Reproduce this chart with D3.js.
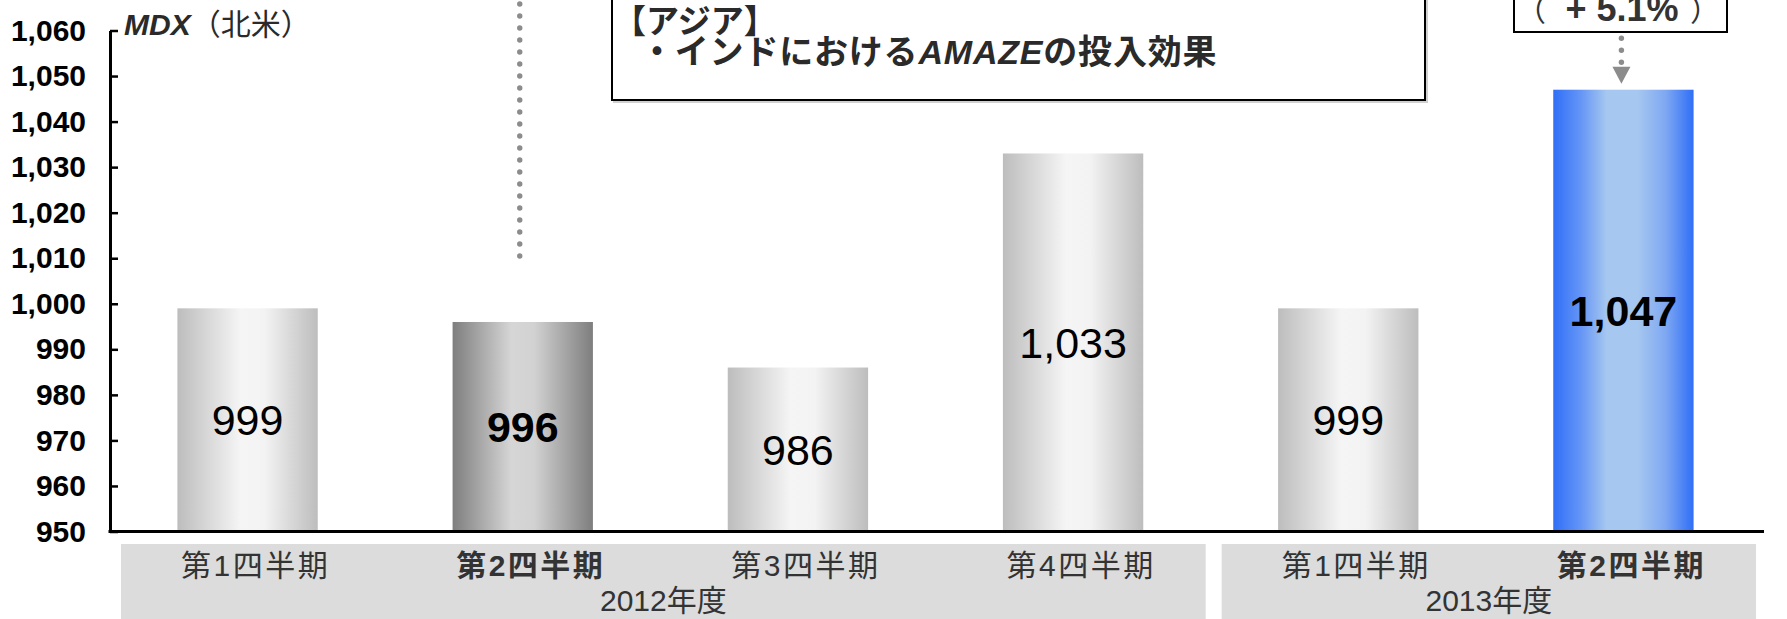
<!DOCTYPE html>
<html>
<head>
<meta charset="utf-8">
<script src="https://cdn.jsdelivr.net/npm/d3@7"></script>
<style>
body { margin: 0; background: #fff; }
svg { display: block; }
.jp { font-family: "Liberation Sans", "Noto Sans CJK JP", sans-serif; }
</style>
</head>
<body>
<svg id="chart" width="1787" height="619"></svg>
<script>
let quarters = ['第1四半期', '第2四半期', '第3四半期', '第4四半期', '第1四半期', '第2四半期']
let sales = [999, 996, 986, 1033, 999, 1047]
let years = ['2012年度', '2013年度']
let yearOfQuarter = [0, 0, 0, 0, 1, 1]
let barStyle = ['light', 'dark', 'light', 'light', 'light', 'blue']
let boldBars = [1, 5]
let yTicks = [950, 960, 970, 980, 990, 1000, 1010, 1020, 1030, 1040, 1050, 1060]
let seriesName = 'MDX'
let regionName = '（北米）'
let noteTitle = '【アジア】'
let noteLine = ['・インドにおける', 'AMAZE', 'の投入効果']
let growthLabel = '+ 5.1%'

let svg = d3.select('#chart')
let numFont = '"Liberation Sans", Arial, sans-serif'
let jpFont = '"Noto Sans CJK JP", sans-serif'

let x = d3.scaleBand()
          .domain(d3.range(sales.length))
          .range([110, 1761])
          .paddingInner(0.49)
          .paddingOuter(0.245)

let y = d3.scaleLinear()
          .domain([950, 1060])
          .range([531.5, 30.5])

// gradients for the bars
let gradients = {
    light: [[0, '#bdbdbd'], [0.45, '#f5f5f5'], [0.62, '#f3f3f3'], [1, '#bdbdbd']],
    dark: [[0, '#7e7e7e'], [0.42, '#d6d6d6'], [0.58, '#d2d2d2'], [1, '#7e7e7e']],
    blue: [[0, '#2f6ff7'], [0.2, '#6696f6'], [0.38, '#a6c7ef'], [0.6, '#a6c7ef'], [0.8, '#7fa8f2'], [1, '#2f6ff7']]
}
let defs = svg.append('defs')
Object.keys(gradients).forEach((key) => {
    let g = defs.append('linearGradient')
                .attr('id', 'grad-' + key)
                .attr('x1', '0%').attr('x2', '100%')
                .attr('y1', '0%').attr('y2', '0%')
    g.selectAll('stop')
     .data(gradients[key])
     .enter()
     .append('stop')
     .attr('offset', (s) => s[0])
     .attr('stop-color', (s) => s[1])
})

// bars
svg.selectAll('rect.bar')
   .data(sales)
   .enter()
   .append('rect')
   .attr('class', 'bar')
   .attr('x', (d, i) => x(i))
   .attr('width', x.bandwidth())
   .attr('y', (d) => y(d))
   .attr('height', (d) => y(950) - y(d))
   .attr('fill', (d, i) => 'url(#grad-' + barStyle[i] + ')')

// value labels in the middle of the visible bar
svg.selectAll('text.value')
   .data(sales)
   .enter()
   .append('text')
   .attr('class', 'value')
   .attr('x', (d, i) => x(i) + x.bandwidth() / 2)
   .attr('y', (d) => (y(d) + y(950)) / 2)
   .attr('dy', '0.36em')
   .attr('text-anchor', 'middle')
   .attr('font-family', numFont)
   .attr('font-size', 43)
   .attr('font-weight', (d, i) => boldBars.includes(i) ? 'bold' : 'normal')
   .attr('fill', '#000')
   .text((d) => d3.format(',')(d))

// y axis
let yAxis = d3.axisLeft(y)
              .tickValues(yTicks)
              .tickSizeInner(-8)
              .tickSizeOuter(0)
              .tickPadding(24)
              .tickFormat(d3.format(','))
let yg = svg.append('g')
            .attr('transform', 'translate(110,0)')
            .call(yAxis)
yg.select('.domain').attr('stroke', '#000').attr('stroke-width', 3)
yg.selectAll('.tick line').attr('stroke', '#000').attr('stroke-width', 2.5)
yg.selectAll('.tick text')
  .attr('font-family', numFont)
  .attr('font-size', 30)
  .attr('font-weight', 'bold')
  .attr('fill', '#000')

// baseline
svg.append('line')
   .attr('x1', 108.5).attr('x2', 1764)
   .attr('y1', y(950)).attr('y2', y(950))
   .attr('stroke', '#000')
   .attr('stroke-width', 3)

// category boxes
let groups = years.map((yr, gi) => {
    let idx = d3.range(quarters.length).filter((i) => yearOfQuarter[i] === gi)
    let start = x(idx[0]) - x.step() * x.paddingOuter()
    let end = x(idx[idx.length - 1]) + x.bandwidth() + x.step() * x.paddingOuter()
    return { label: yr, x0: start + 11, x1: end - 5 }
})
svg.selectAll('rect.group')
   .data(groups)
   .enter()
   .append('rect')
   .attr('class', 'group')
   .attr('x', (g) => g.x0)
   .attr('width', (g) => g.x1 - g.x0)
   .attr('y', 544)
   .attr('height', 75)
   .attr('fill', '#dcdcdc')

svg.selectAll('text.quarter')
   .data(quarters)
   .enter()
   .append('text')
   .attr('class', 'quarter jp')
   .attr('x', (d, i) => x(i) + x.bandwidth() / 2 + 8)
   .attr('y', 576)
   .attr('text-anchor', 'middle')
   .attr('font-size', 30)
   .attr('letter-spacing', 2.5)
   .attr('font-weight', (d, i) => boldBars.includes(i) ? 'bold' : 'normal')
   .attr('fill', '#333')
   .text((d) => d)

svg.selectAll('text.year')
   .data(groups)
   .enter()
   .append('text')
   .attr('class', 'year jp')
   .attr('x', (g) => (g.x0 + g.x1) / 2)
   .attr('y', 611)
   .attr('text-anchor', 'middle')
   .attr('font-size', 30)
   .attr('fill', '#333')
   .text((g) => g.label)

// series title
let title = svg.append('text')
               .attr('x', 124)
               .attr('y', 35)
               .attr('fill', '#2a2a2a')
title.append('tspan')
     .attr('font-family', numFont)
     .attr('font-size', 30)
     .attr('font-weight', 'bold')
     .attr('font-style', 'italic')
     .text(seriesName)
title.append('tspan')
     .attr('font-family', jpFont)
     .attr('font-size', 30)
     .text(regionName)

// dotted guide above bar 2
svg.append('line')
   .attr('x1', x(1) + x.bandwidth() / 2 - 3).attr('x2', x(1) + x.bandwidth() / 2 - 3)
   .attr('y1', 4).attr('y2', y(1010))
   .attr('stroke', '#8c8c8c')
   .attr('stroke-width', 5.4)
   .attr('stroke-linecap', 'round')
   .attr('stroke-dasharray', '0 12')

// note box
svg.append('rect')
   .attr('x', 614).attr('y', -10)
   .attr('width', 813).attr('height', 112)
   .attr('fill', 'none')
   .attr('stroke', '#d0d0d0')
   .attr('stroke-width', 2)
svg.append('rect')
   .attr('x', 612).attr('y', -10)
   .attr('width', 813).attr('height', 110)
   .attr('fill', '#fff')
   .attr('stroke', '#000')
   .attr('stroke-width', 2)
svg.append('text')
   .attr('x', 613).attr('y', 33)
   .attr('font-family', jpFont)
   .attr('font-size', 33)
   .attr('font-weight', 'bold')
   .attr('fill', '#2a2a2a')
   .text(noteTitle)
let note = svg.append('text')
              .attr('x', 640).attr('y', 64)
              .attr('font-family', jpFont)
              .attr('font-size', 34)
              .attr('letter-spacing', 0.8)
              .attr('font-weight', 'bold')
              .attr('fill', '#2a2a2a')
note.append('tspan').text(noteLine[0])
note.append('tspan')
    .attr('font-family', numFont)
    .attr('font-style', 'italic')
    .text(noteLine[1])
note.append('tspan').text(noteLine[2])

// growth box + arrow
let cx = x(5) + x.bandwidth() / 2 - 2
svg.append('rect')
   .attr('x', 1514).attr('y', -10)
   .attr('width', 213).attr('height', 42)
   .attr('fill', '#fff')
   .attr('stroke', '#000')
   .attr('stroke-width', 2)
svg.append('text')
   .attr('x', 1516).attr('y', 21)
   .attr('font-family', jpFont)
   .attr('font-size', 30)
   .attr('fill', '#333')
   .text('（')
svg.append('text')
   .attr('x', 1622).attr('y', 21)
   .attr('text-anchor', 'middle')
   .attr('font-family', numFont)
   .attr('font-size', 36)
   .attr('font-weight', 'bold')
   .attr('fill', '#333')
   .text(growthLabel)
svg.append('text')
   .attr('x', 1690).attr('y', 21)
   .attr('font-family', jpFont)
   .attr('font-size', 30)
   .attr('fill', '#333')
   .text('）')

let top6 = y(sales[5])
svg.selectAll('circle.dot')
   .data([51.5, 39.5, 27.5])
   .enter()
   .append('circle')
   .attr('class', 'dot')
   .attr('cx', cx)
   .attr('cy', (d) => top6 - d)
   .attr('r', 2.7)
   .attr('fill', '#8c8c8c')
svg.append('path')
   .attr('d', 'M' + (cx - 9) + ',' + (top6 - 23) + 'L' + (cx + 9) + ',' + (top6 - 23) + 'L' + cx + ',' + (top6 - 6) + 'Z')
   .attr('fill', '#8c8c8c')
</script>
</body>
</html>
